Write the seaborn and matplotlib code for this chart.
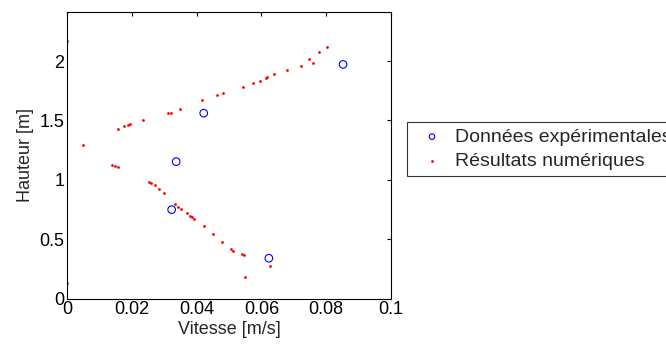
import numpy as np
import pandas as pd
import matplotlib
matplotlib.use("Agg")
import matplotlib.pyplot as plt
import seaborn as sns
from matplotlib.ticker import FuncFormatter

# ===================== Données =====================
# Données expérimentales (cercles bleus)
vitesse_exp = [0.0323, 0.0337, 0.0422, 0.0623, 0.0852]
hauteur_exp = [0.749, 1.153, 1.561, 0.340, 1.971]

# Résultats numériques (points rouges)
vitesse_num = [0.0, 0.0048, 0.0140, 0.0147, 0.0156, 0.0158, 0.0176, 0.0188, 0.0193,
               0.0234, 0.0252, 0.0259, 0.0271, 0.0285, 0.0298, 0.0312, 0.0320,
               0.0332, 0.0343, 0.0350, 0.0352, 0.0369, 0.0380, 0.0387, 0.0392,
               0.0417, 0.0422, 0.0451, 0.0462, 0.0479, 0.0483, 0.0505, 0.0512,
               0.0540, 0.0543, 0.0545, 0.0550, 0.0574, 0.0596, 0.0613, 0.0616,
               0.0625, 0.0639, 0.0679, 0.0722, 0.0746, 0.0760, 0.0779, 0.0802, 0.0]
hauteur_num = [2.170, 1.297, 1.126, 1.117, 1.106, 1.431, 1.452, 1.462, 1.468,
               1.505, 0.985, 0.977, 0.957, 0.921, 0.887, 1.561, 1.566,
               0.797, 0.774, 1.595, 0.755, 0.721, 0.698, 0.685, 0.673,
               1.673, 0.609, 0.544, 1.713, 0.479, 1.730, 0.420, 0.404,
               0.376, 1.783, 0.370, 0.182, 1.814, 1.836, 1.861, 1.867,
               0.277, 1.892, 1.923, 1.957, 2.018, 1.982, 2.072, 2.120, 0.131]

df_exp = pd.DataFrame({"Vitesse": vitesse_exp, "Hauteur": hauteur_exp})
df_num = pd.DataFrame({"Vitesse": vitesse_num, "Hauteur": hauteur_num})

# ===================== Style =====================
sns.set_style("white")
plt.rcParams["font.family"] = ["Liberation Sans", "DejaVu Sans"]
plt.rcParams["font.size"] = 13

fig = plt.figure(figsize=(6.66, 3.45), dpi=100)
ax = fig.add_axes([0.1006, 0.1345, 0.4865, 0.8298])

sns.scatterplot(data=df_exp, x="Vitesse", y="Hauteur", ax=ax, marker="o",
                facecolor="none", edgecolor="blue", linewidth=0.8, s=30,
                label="Données expérimentales")
sns.scatterplot(data=df_num, x="Vitesse", y="Hauteur", ax=ax, marker="o",
                color="red", linewidth=0, s=4, label="Résultats numériques")

ax.set_xlim(0, 0.1)
ax.set_ylim(0, 2.41)
ax.set_xticks([0, 0.02, 0.04, 0.06, 0.08, 0.1])
ax.set_yticks([0, 0.5, 1, 1.5, 2])
fmt = FuncFormatter(lambda v, p: "%g" % round(v, 4))
ax.xaxis.set_major_formatter(fmt)
ax.yaxis.set_major_formatter(fmt)
ax.tick_params(direction="in", length=3, width=0.8, top=True, right=True,
               labelsize=13, pad=2, colors="black")
for sp in ax.spines.values():
    sp.set_color("black")
    sp.set_linewidth(0.8)

ax.set_xlabel("Vitesse [m/s]", fontsize=13, labelpad=2)
ax.set_ylabel("Hauteur [m]", fontsize=13, labelpad=4)

# Légende à droite, coupée par le bord de la figure comme dans l'original
leg = ax.legend(loc="upper left", bbox_to_anchor=(0.6107, 0.6455),
                bbox_transform=fig.transFigure, borderaxespad=0,
                fancybox=False, frameon=True, edgecolor="black",
                fontsize=14, handlelength=2.0, handletextpad=0.2,
                borderpad=0.3, labelspacing=0.35)
leg.get_frame().set_linewidth(0.8)
leg.legend_handles[0].set_sizes([16])
leg.legend_handles[1].set_sizes([4])

fig.savefig("out.png", dpi=100)
